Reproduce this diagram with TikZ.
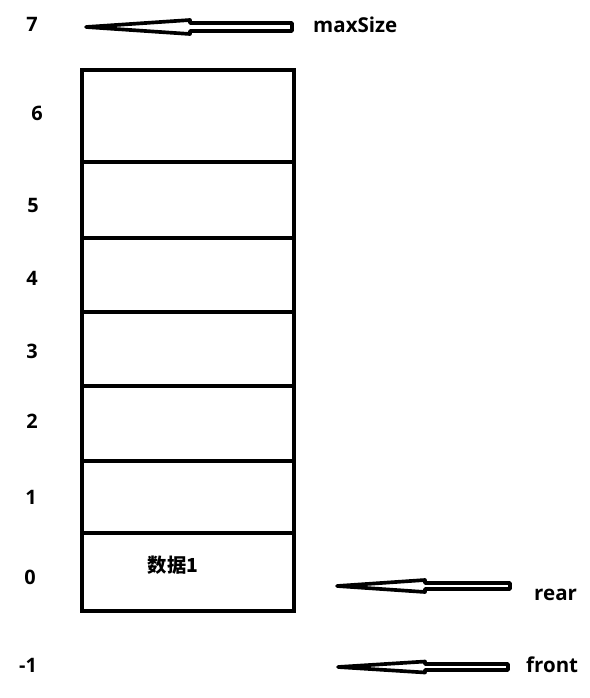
\documentclass[tikz,border=0pt]{standalone}
\usepackage{fontspec}
\setmainfont{Open Sans}
\newfontfamily\cjk{Noto Sans CJK SC}
\usetikzlibrary{calc}

\tikzset{
    idx/.style={font=\fontsize{17}{20}\selectfont\bfseries, inner sep=0pt},
    ptrlabel/.style={font=\fontsize{17.5}{20}\selectfont\bfseries, inner sep=0pt, anchor=west},
    cellline/.style={line width=0.12cm},
    arrowline/.style={line width=0.11cm, line join=round, fill=white}
}

% hollow arrow: tip, head length, head half-height, shaft half-height, tail x
\newcommand{\hollowarrow}[5]{
    \draw[arrowline] (#1) -- ($(#1)+(#2,-#3)$) -- ($(#1)+(#2,-#4)$)
        -- ($(#1)+(#5,-#4)$) -- ($(#1)+(#5,#4)$) -- ($(#1)+(#2,#4)$)
        -- ($(#1)+(#2,#3)$) -- cycle;
}

\begin{document}
\begin{tikzpicture}[x=0.03cm, y=-0.03cm]
    \useasboundingbox (0,0) rectangle (590,698);

    % The queue cells
    \draw[cellline] (82,70) rectangle (294,611);
    \foreach \y in {162,238,312,386,461,533}
        \draw[cellline] (82,\y) -- (294,\y);
    \node[font=\cjk\fontsize{16.5}{19}\selectfont\bfseries] (data1) at (173,565) {数据1};

    % Index labels
    \node[idx] (i7) at (32,24) {7};
    \node[idx] (i6) at (37,113) {6};
    \node[idx] (i5) at (33,205) {5};
    \node[idx] (i4) at (32,278) {4};
    \node[idx] (i3) at (32,351) {3};
    \node[idx] (i2) at (32,421) {2};
    \node[idx] (i1) at (31,497) {1};
    \node[idx] (i0) at (30,577) {0};
    \node[idx] (im1) at (28,665) {-1};

    % Pointer labels
    \node[ptrlabel] (maxSize) at (313,25) {maxSize};
    \node[ptrlabel] (rear) at (534,595) {rear};
    \node[ptrlabel] (front) at (526,665) {front};

    % Pointer arrows
    \coordinate (maxtip) at (86,27);
    \coordinate (reartip) at (337,586);
    \coordinate (fronttip) at (338,667);
    \hollowarrow{maxtip}{104}{7}{4}{206}
    \hollowarrow{reartip}{88}{6}{3}{173}
    \hollowarrow{fronttip}{87}{5.5}{3}{170}
\end{tikzpicture}
\end{document}
